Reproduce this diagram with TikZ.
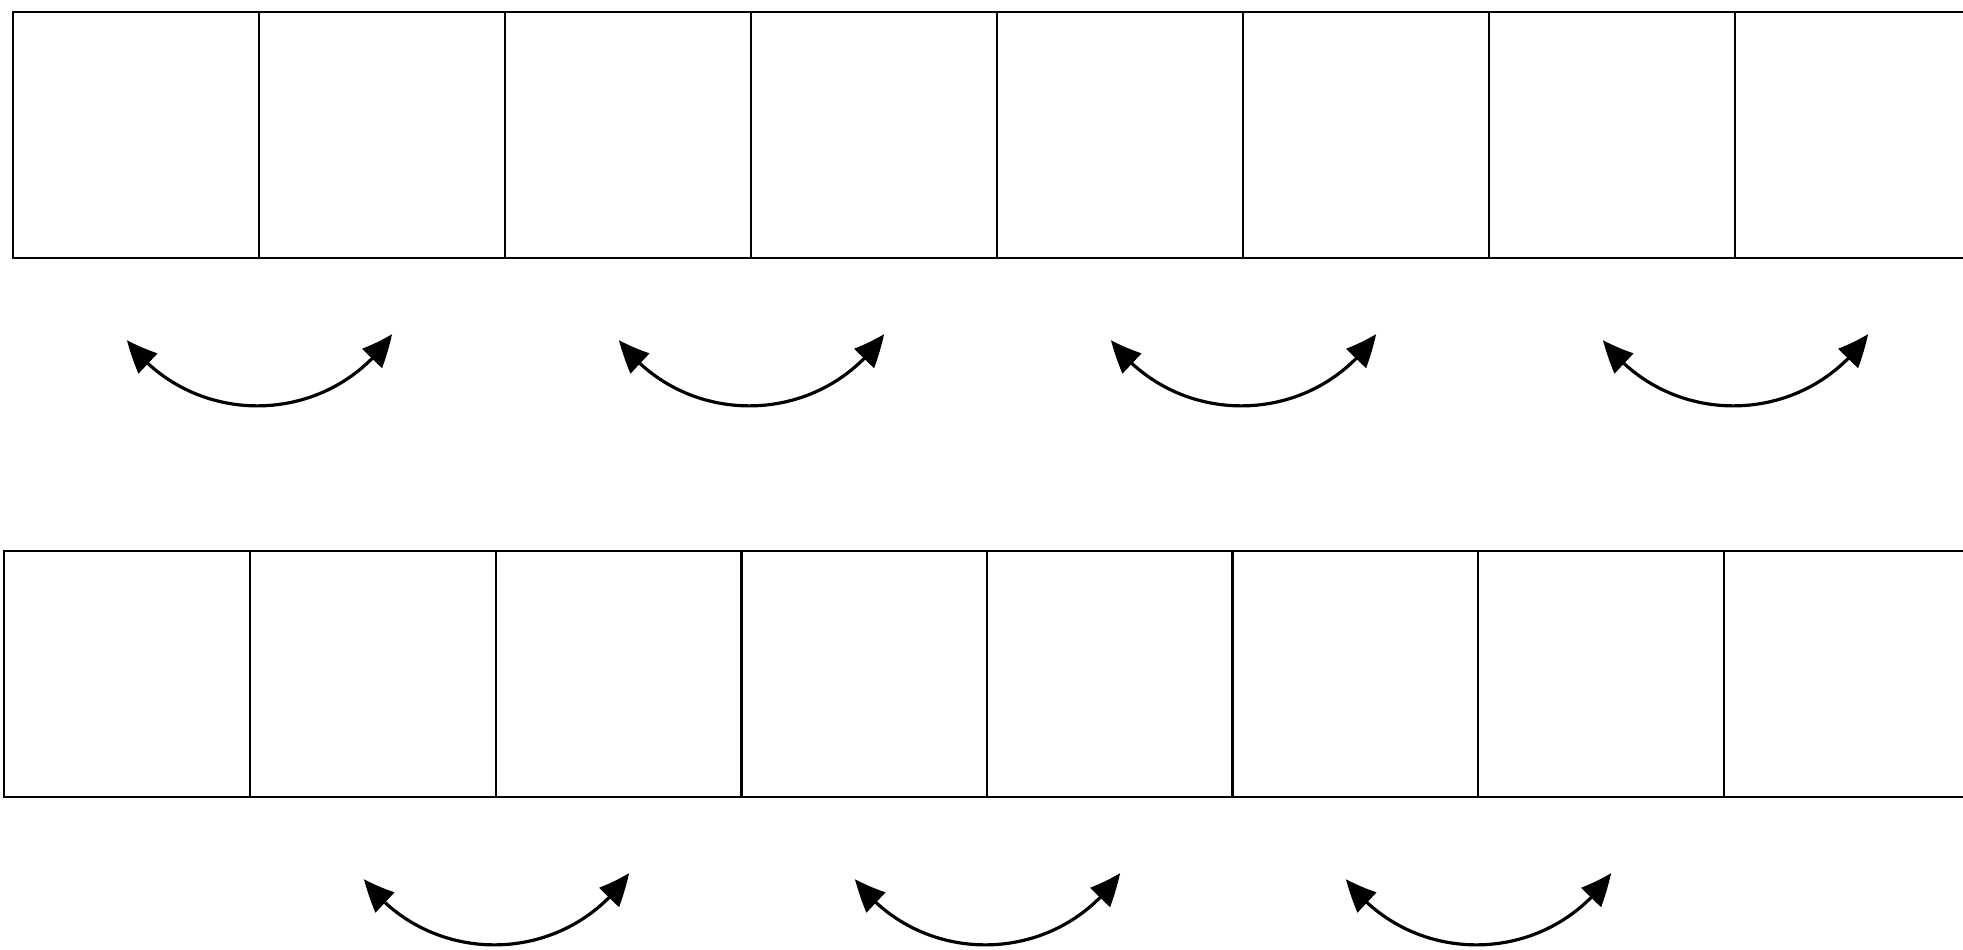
\documentclass[tikz,border=0pt]{standalone}
\usetikzlibrary{arrows.meta, bending}
\tikzset{
  cell/.style={
    draw, line width=1pt, inner sep=0pt, outer sep=0pt,
    minimum width=123pt, minimum height=123pt
  },
  swaparrow/.style={
    line width=1.6pt,
    {Triangle[bend, length=16pt, width=13.5pt]}-{Triangle[bend, length=16pt, width=13.5pt]}
  }
}

\begin{document}
\begin{tikzpicture}[x=0.5pt, y=0.5pt]
    \useasboundingbox (0,0) rectangle (1963,-949);

    % Top row of cells
    \node[cell] (t1) at (136,-135) {};
    \node[cell] (t2) at (382,-135) {};
    \node[cell] (t3) at (628,-135) {};
    \node[cell] (t4) at (874,-135) {};
    \node[cell] (t5) at (1120,-135) {};
    \node[cell] (t6) at (1366,-135) {};
    \node[cell] (t7) at (1612,-135) {};
    \node[cell] (t8) at (1858,-135) {};

    % Bottom row of cells
    \node[cell] (b1) at (127.3,-674) {};
    \node[cell] (b2) at (372.9,-674) {};
    \node[cell] (b3) at (618.5,-674) {};
    \node[cell] (b4) at (864.1,-674) {};
    \node[cell] (b5) at (1109.7,-674) {};
    \node[cell] (b6) at (1355.3,-674) {};
    \node[cell] (b7) at (1600.9,-674) {};
    \node[cell] (b8) at (1846.5,-674) {};

    % Ends of the swap arrows
    \coordinate (ts1) at (127,-340);  \coordinate (te1) at (392,-334);
    \coordinate (ts2) at (619,-340);  \coordinate (te2) at (884,-334);
    \coordinate (ts3) at (1111,-340); \coordinate (te3) at (1376,-334);
    \coordinate (ts4) at (1603,-340); \coordinate (te4) at (1868,-334);
    \coordinate (bs1) at (364,-879);  \coordinate (be1) at (629,-873);
    \coordinate (bs2) at (855,-879);  \coordinate (be2) at (1120,-873);
    \coordinate (bs3) at (1346,-879); \coordinate (be3) at (1611,-873);

    % Swaps under the top row
    \draw[swaparrow] (ts1) to[bend right=55, looseness=1.08] (te1);
    \draw[swaparrow] (ts2) to[bend right=55, looseness=1.08] (te2);
    \draw[swaparrow] (ts3) to[bend right=55, looseness=1.08] (te3);
    \draw[swaparrow] (ts4) to[bend right=55, looseness=1.08] (te4);

    % Swaps under the bottom row
    \draw[swaparrow] (bs1) to[bend right=55, looseness=1.08] (be1);
    \draw[swaparrow] (bs2) to[bend right=55, looseness=1.08] (be2);
    \draw[swaparrow] (bs3) to[bend right=55, looseness=1.08] (be3);

\end{tikzpicture}
\end{document}
